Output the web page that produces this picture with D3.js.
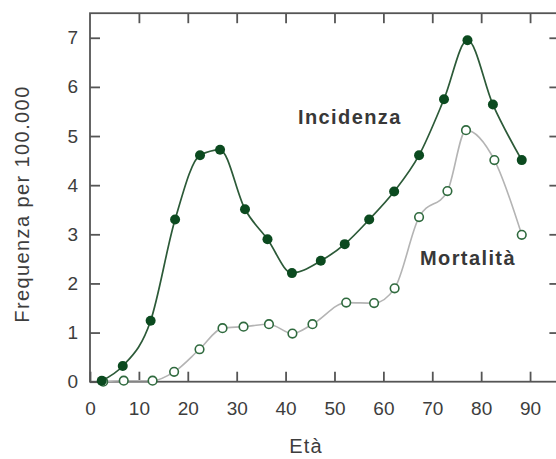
<!DOCTYPE html>
<html>
<head>
<meta charset="utf-8">
<script src="https://cdn.jsdelivr.net/npm/d3@7"></script>
<style>
  html, body { margin: 0; padding: 0; background: #fff; }
  svg { display: block; font-family: "Liberation Sans", Arial, Helvetica, sans-serif; }
</style>
</head>
<body>
<svg id="chart" width="556" height="459"></svg>
<script>
// Age at which each point is plotted (years)
const incidenceAge = [2.4, 6.7, 12.4, 17.4, 22.5, 26.6, 31.7, 36.3, 41.3, 47.2, 52.1, 57.1, 62.2, 67.3, 72.4, 77.2, 82.4, 88.3];
// Cases per 100,000
const incidenceValue = [0.02, 0.32, 1.24, 3.30, 4.61, 4.72, 3.51, 2.90, 2.21, 2.46, 2.80, 3.30, 3.87, 4.61, 5.75, 6.95, 5.64, 4.51];

const mortalityAge = [2.7, 6.9, 12.8, 17.2, 22.4, 27.1, 31.4, 36.6, 41.4, 45.5, 52.4, 58.1, 62.3, 67.3, 73.1, 76.9, 82.7, 88.3];
const mortalityValue = [0.0, 0.02, 0.02, 0.20, 0.66, 1.09, 1.12, 1.17, 0.98, 1.17, 1.61, 1.60, 1.90, 3.35, 3.88, 5.12, 4.51, 2.99];

const xTicks = [0, 10, 20, 30, 40, 50, 60, 70, 80, 90];
const yTicks = [0, 1, 2, 3, 4, 5, 6, 7];

const svg = d3.select("#chart");

const x = d3.scaleLinear().domain([0, 96]).range([90, 559.4]);
const y = d3.scaleLinear().domain([0, 7.5]).range([381.7, 13.2]);

const axisColor = "#555";
const textColor = "#3d3d3d";

// Plot frame
svg.append("rect")
  .attr("x", x(0)).attr("y", y(7.5))
  .attr("width", x(96) - x(0)).attr("height", y(0) - y(7.5))
  .attr("fill", "none").attr("stroke", axisColor).attr("stroke-width", 1.8);

function styleAxis(g) {
  g.select(".domain").remove();
  g.selectAll(".tick line").attr("stroke", axisColor).attr("stroke-width", 1.8);
  g.selectAll(".tick text").attr("fill", textColor).style("font-size", "19px");
}

svg.append("g")
  .attr("transform", `translate(0,${y(0)})`)
  .call(d3.axisBottom(x).tickValues(xTicks).tickSize(-10).tickPadding(20))
  .call(styleAxis);

svg.append("g")
  .attr("transform", `translate(0,${y(7.5)})`)
  .call(d3.axisTop(x).tickValues(xTicks.slice(1)).tickSize(-10).tickFormat(""))
  .call(styleAxis);

svg.append("g")
  .attr("transform", `translate(${x(0)},0)`)
  .call(d3.axisLeft(y).tickValues(yTicks).tickSize(-10).tickPadding(12))
  .call(styleAxis);

svg.append("g")
  .attr("transform", `translate(${x(96)},0)`)
  .call(d3.axisRight(y).tickValues(yTicks.slice(1)).tickSize(-10).tickFormat(""))
  .call(styleAxis);

// Axis titles
svg.append("text")
  .attr("x", 306).attr("y", 453)
  .attr("text-anchor", "middle")
  .attr("fill", textColor)
  .style("font-size", "20px").style("letter-spacing", "1.2px")
  .text("Età");

svg.append("text")
  .attr("transform", "translate(28.5,204) rotate(-90)")
  .attr("text-anchor", "middle")
  .attr("fill", textColor)
  .style("font-size", "20px").style("letter-spacing", "1.4px")
  .text("Frequenza per 100.000");

// Series
const line = d3.line()
  .x(d => x(d[0]))
  .y(d => y(d[1]))
  .curve(d3.curveMonotoneX);

const mortality = d3.zip(mortalityAge, mortalityValue);
const incidence = d3.zip(incidenceAge, incidenceValue);

svg.append("path")
  .datum(mortality)
  .attr("d", line)
  .attr("fill", "none")
  .attr("stroke", "#b4b4b4")
  .attr("stroke-width", 1.6);

svg.append("g").selectAll("circle")
  .data(mortality)
  .join("circle")
  .attr("cx", d => x(d[0]))
  .attr("cy", d => y(d[1]))
  .attr("r", 4.3)
  .attr("fill", "#fff")
  .attr("stroke", "#2f6a3e")
  .attr("stroke-width", 1.6);

svg.append("path")
  .datum(incidence)
  .attr("d", line)
  .attr("fill", "none")
  .attr("stroke", "#2c5a38")
  .attr("stroke-width", 1.7);

svg.append("g").selectAll("circle")
  .data(incidence)
  .join("circle")
  .attr("cx", d => x(d[0]))
  .attr("cy", d => y(d[1]))
  .attr("r", 5)
  .attr("fill", "#0b4a1f");

// Series labels
svg.append("text")
  .attr("x", 298).attr("y", 123.5)
  .attr("fill", "#383838")
  .style("font-size", "20px").style("font-weight", "bold").style("letter-spacing", "1.4px")
  .text("Incidenza");

svg.append("text")
  .attr("x", 420).attr("y", 265)
  .attr("fill", "#383838")
  .style("font-size", "20px").style("font-weight", "bold").style("letter-spacing", "1.4px")
  .text("Mortalità");
</script>
</body>
</html>
